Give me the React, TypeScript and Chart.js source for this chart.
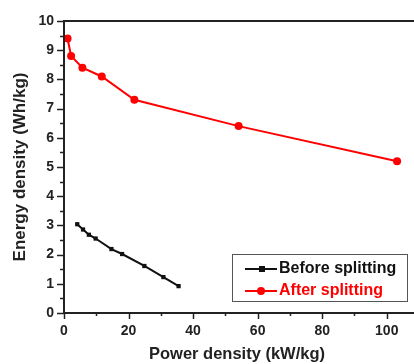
import React, { useEffect, useRef } from "react";
import { Chart, registerables } from "chart.js";

Chart.register(...registerables);

const beforePower = [4.1, 5.9, 7.7, 9.8, 14.7, 18.0, 24.9, 30.8, 35.5];
const beforeEnergy = [3.04, 2.86, 2.68, 2.55, 2.19, 2.02, 1.61, 1.23, 0.92];
const afterPower = [1.1, 2.2, 5.7, 11.7, 21.8, 54.1, 103.2];
const afterEnergy = [9.4, 8.8, 8.4, 8.1, 7.3, 6.4, 5.2];
const seriesNames = ["Before splitting", "After splitting"];
const seriesColors = ["#111111", "#ff0000"];
const xTickValues = [0, 20, 40, 60, 80, 100];
const yTickValues = [0, 1, 2, 3, 4, 5, 6, 7, 8, 9, 10];
const xTitle = "Power density (kW/kg)";
const yTitle = "Energy density (Wh/kg)";

const FONT = "Arial, 'Liberation Sans', sans-serif";

const customPlugin = {
  id: "custom",
  afterDraw(chart: any) {
    const ctx = chart.ctx;
    const area = chart.chartArea;
    const xs = chart.scales.x;
    const ys = chart.scales.y;
    ctx.save();
    ctx.strokeStyle = "#222";
    ctx.lineWidth = 2;
    ctx.beginPath();
    ctx.moveTo(area.left, area.top);
    ctx.lineTo(chart.width, area.top);
    ctx.moveTo(area.left, area.top - 1);
    ctx.lineTo(area.left, area.bottom + 1);
    ctx.moveTo(area.left - 1, area.bottom);
    ctx.lineTo(chart.width, area.bottom);
    ctx.stroke();
    ctx.lineWidth = 1.5;
    ctx.beginPath();
    for (let v = 0; v <= 10.001; v += 0.5) {
      const py = Math.round(ys.getPixelForValue(v)) + 0.5;
      const major = Math.abs(v - Math.round(v)) < 1e-6;
      ctx.moveTo(area.left, py);
      ctx.lineTo(area.left - (major ? 7 : 4), py);
    }
    for (let v = 0; v <= xs.max; v += 10) {
      const px = Math.round(xs.getPixelForValue(v)) + 0.5;
      const major = v % 20 === 0;
      ctx.moveTo(px, area.bottom);
      ctx.lineTo(px, area.bottom + (major ? 6 : 3));
    }
    ctx.stroke();
    const bx = 232, by = 254, bw = 175, bh = 47;
    ctx.lineWidth = 1;
    ctx.strokeStyle = "#555";
    ctx.strokeRect(bx + 0.5, by + 0.5, bw, bh);
    const rows = [269, 291];
    for (let i = 0; i < 2; i++) {
      const y = rows[i];
      const c = seriesColors[i];
      ctx.strokeStyle = c;
      ctx.fillStyle = c;
      ctx.lineWidth = 2;
      ctx.beginPath();
      ctx.moveTo(245, y);
      ctx.lineTo(277, y);
      ctx.stroke();
      if (i === 0) {
        ctx.fillRect(259, y - 3, 6, 6);
      } else {
        ctx.beginPath();
        ctx.arc(261, y, 4, 0, Math.PI * 2);
        ctx.fill();
      }
      ctx.font = "bold 16px " + FONT;
      ctx.textBaseline = "middle";
      ctx.textAlign = "left";
      ctx.fillText(seriesNames[i], 279, y);
    }
    ctx.restore();
  },
};

export default function App() {
  const ref = useRef<HTMLCanvasElement>(null);
  useEffect(() => {
    const canvas = ref.current!;
    const chart = new Chart(canvas, {
      type: "line",
      data: {
        datasets: [
          {
            label: seriesNames[0],
            data: beforePower.map((x, i) => ({ x, y: beforeEnergy[i] })),
            borderColor: seriesColors[0],
            backgroundColor: seriesColors[0],
            borderWidth: 2,
            pointStyle: "rect",
            pointRadius: 3,
            pointBorderWidth: 0,
          },
          {
            label: seriesNames[1],
            data: afterPower.map((x, i) => ({ x, y: afterEnergy[i] })),
            borderColor: seriesColors[1],
            backgroundColor: seriesColors[1],
            borderWidth: 2,
            pointStyle: "circle",
            pointRadius: 4,
            pointBorderWidth: 0,
          },
        ],
      },
      options: {
        animation: false,
        responsive: false,
        maintainAspectRatio: false,
        layout: { padding: { top: 21, right: 0, left: 0, bottom: 0 } },
        plugins: { legend: { display: false }, tooltip: { enabled: false } },
        scales: {
          x: {
            type: "linear",
            min: 0,
            max: 107.2,
            afterFit: (s: any) => {
              s.height = 51;
            },
            afterBuildTicks: (s: any) => {
              s.ticks = xTickValues.map((v) => ({ value: v }));
            },
            grid: { display: true, drawOnChartArea: false, color: "rgba(0,0,0,0)", tickLength: 6 },
            border: { display: false },
            ticks: {
              autoSkip: false,
              maxRotation: 0,
              padding: 4,
              color: "#222",
              font: { family: FONT, size: 14, weight: "bold" },
            },
            title: {
              display: true,
              text: xTitle,
              color: "#222",
              font: { family: FONT, size: 16.5, weight: "bold" },
              padding: { top: 0, bottom: 0 },
            },
          },
          y: {
            type: "linear",
            min: 0,
            max: 10,
            afterFit: (s: any) => {
              s.width = 64;
            },
            afterBuildTicks: (s: any) => {
              s.ticks = yTickValues.map((v) => ({ value: v }));
            },
            grid: { display: true, drawOnChartArea: false, color: "rgba(0,0,0,0)", tickLength: 7 },
            border: { display: false },
            ticks: {
              autoSkip: false,
              padding: 3,
              color: "#222",
              font: { family: FONT, size: 14, weight: "bold" },
            },
            title: {
              display: true,
              text: yTitle,
              color: "#222",
              font: { family: FONT, size: 17, weight: "bold" },
              padding: { top: 10, bottom: 0 },
            },
          },
        },
      },
      plugins: [customPlugin],
    } as any);
    return () => chart.destroy();
  }, []);
  return (
    <div style={{ position: "absolute", left: 0, top: 0, width: 414, height: 364, background: "#fff" }}>
      <canvas ref={ref} width={414} height={364} style={{ width: 414, height: 364, display: "block" }} />
    </div>
  );
}
